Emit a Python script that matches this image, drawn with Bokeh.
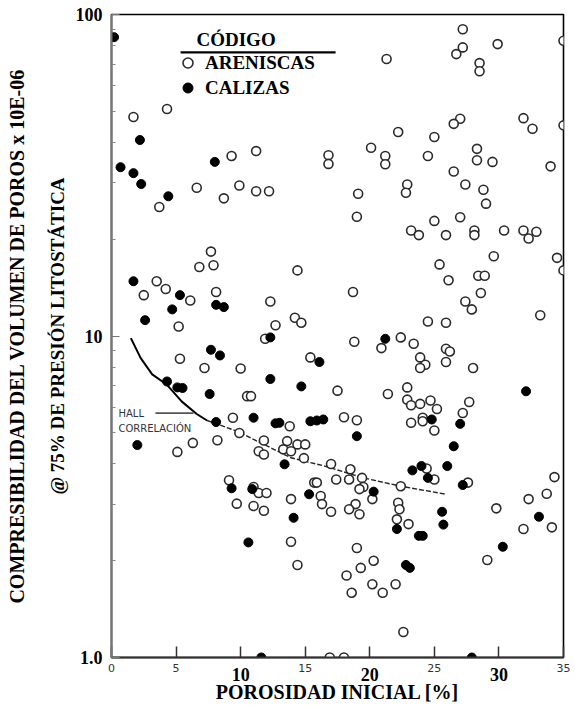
from bokeh.plotting import figure
from bokeh.models import (FixedTicker, LogAxis, LinearAxis, Label, Legend, LegendItem,
                          BoxAnnotation, ColumnDataSource, Range1d)
from bokeh.embed import file_html
from bokeh.resources import INLINE

# ---------------- data ----------------
ARENISCAS_X = [1.7, 4.3, 3.7, 6.6, 8.7, 9.3, 9.9, 11.2, 11.2, 12.2, 16.8, 16.8,
               27.2, 27.2, 26.7, 29.9, 35.0, 21.3, 28.5, 28.5, 27.0, 26.5, 31.9, 32.6,
               35.0, 22.2, 25.0, 20.1, 21.2, 21.2, 24.5, 28.3, 28.3, 29.5, 26.5, 34.0,
               22.9, 22.8, 27.4, 28.8, 29.0, 19.1, 19.0, 23.2, 23.8, 25.0, 25.9, 27.0,
               28.1, 28.1, 30.4, 31.9, 32.9, 32.3, 29.6, 34.5, 35.0, 25.4, 26.1, 28.4,
               28.9, 28.6, 18.7, 27.4, 27.9, 33.2, 24.5, 25.9, 18.8, 20.9, 22.4, 23.4,
               25.9, 26.2, 23.9, 24.3, 23.9, 25.9, 28.0, 17.5, 22.9, 21.4, 22.9, 24.7,
               23.2, 23.9, 25.2, 27.7, 27.2, 18.0, 19.0, 23.2, 24.1, 24.1, 25.0, 17.0,
               18.5, 24.4, 17.4, 18.4, 19.4, 19.5, 19.2, 20.2, 22.4, 18.9, 18.4, 19.2,
               17.0, 22.2, 22.3, 22.1, 23.0, 25.0, 27.6, 29.8, 32.3, 33.7, 34.3, 31.9,
               34.1, 29.1, 19.0, 20.3, 19.3, 18.2, 20.2, 18.6, 21.0, 22.0, 22.6, 16.9,
               18.0, 9.1, 9.7, 11.0, 11.4, 12.0, 11.0, 11.8, 13.9, 15.7, 15.9, 16.2,
               16.3, 13.9, 14.4, 7.7, 6.8, 7.9, 14.4, 3.5, 4.2, 2.5, 8.1, 6.1,
               12.3, 5.2, 12.7, 14.2, 14.7, 11.9, 5.3, 7.2, 10.0, 15.4, 10.5, 10.8,
               9.4, 13.8, 9.9, 11.8, 13.6, 14.4, 15.0, 13.3, 13.9, 11.4, 11.8, 14.9,
               5.1, 6.3, 8.2]
ARENISCAS_Y = [48.0, 50.8, 25.2, 28.9, 26.8, 36.3, 29.4, 37.6, 28.2, 28.2, 36.5, 34.3,
               90.0, 79.0, 75.3, 80.9, 82.9, 72.7, 70.6, 66.6, 47.4, 45.7, 47.6, 44.1,
               45.2, 43.1, 41.6, 38.5, 36.3, 34.2, 36.3, 38.2, 35.2, 34.8, 32.5, 33.7,
               29.6, 27.9, 29.6, 28.5, 25.8, 27.7, 23.5, 21.3, 20.6, 22.8, 20.6, 23.4,
               21.3, 20.6, 21.3, 21.3, 21.1, 20.1, 17.7, 17.5, 16.0, 16.7, 14.9, 15.4,
               15.4, 13.6, 13.7, 12.8, 12.1, 11.6, 11.1, 11.0, 9.6, 9.17, 9.9, 9.46,
               9.13, 8.95, 8.58, 8.14, 7.95, 8.3, 7.95, 6.76, 6.92, 6.6, 6.34, 6.3,
               6.09, 6.15, 5.93, 6.23, 5.76, 5.59, 5.47, 5.37, 5.57, 5.43, 5.08, 4.0,
               3.85, 3.87, 3.58, 3.58, 3.62, 3.39, 3.34, 3.11, 3.41, 3.0, 2.89, 2.79,
               2.84, 3.03, 2.89, 2.69, 2.6, 3.58, 3.5, 2.91, 3.11, 3.23, 3.64, 2.51,
               2.54, 2.01, 2.19, 2.0, 1.9, 1.8, 1.69, 1.59, 1.59, 1.69, 1.2, 1.0,
               1.0, 3.56, 3.01, 3.39, 3.25, 3.25, 2.96, 2.86, 3.11, 3.5, 3.5, 3.18,
               3.0, 2.29, 1.94, 18.3, 16.4, 16.6, 16.0, 14.8, 14.0, 13.4, 13.7, 12.9,
               12.8, 10.7, 10.8, 11.4, 11.0, 9.8, 8.5, 7.95, 7.92, 8.58, 6.5, 6.5,
               5.57, 5.24, 4.99, 4.73, 4.71, 4.6, 4.6, 4.44, 4.38, 4.38, 4.28, 4.17,
               4.36, 4.65, 4.74]

CALIZAS_X = [0.2, 2.2, 0.7, 1.7, 2.3, 4.4, 8.0, 21.2, 32.1, 27.0, 24.8, 19.0,
             26.5, 23.3, 24.0, 26.0, 24.5, 27.2, 25.6, 25.7, 33.1, 30.3, 22.8, 23.1,
             20.3, 22.1, 23.8, 24.1, 27.9, 13.4, 9.3, 10.9, 15.3, 14.1, 10.6, 11.6,
             1.7, 5.3, 4.7, 8.1, 8.7, 2.6, 12.3, 7.7, 8.4, 16.1, 12.3, 14.7,
             4.3, 5.1, 5.5, 7.6, 8.1, 11.0, 12.7, 13.0, 15.4, 15.9, 16.4, 2.0]
CALIZAS_Y = [85.0, 40.7, 33.5, 32.1, 29.7, 27.2, 34.8, 9.8, 6.73, 5.33, 5.5, 4.88,
             4.54, 3.82, 3.94, 3.94, 3.62, 3.44, 2.84, 2.59, 2.74, 2.21, 1.94, 1.9,
             3.28, 2.51, 2.39, 2.39, 1.0, 3.99, 3.36, 3.34, 3.22, 2.72, 2.28, 1.0,
             14.8, 13.4, 12.1, 12.5, 12.3, 11.2, 9.9, 9.06, 8.7, 8.3, 7.35, 6.97,
             7.22, 6.92, 6.89, 6.6, 5.4, 5.57, 5.35, 5.37, 5.43, 5.46, 5.5, 4.58]

# Hall correlation curve (solid part, then dashed part)
HALL_X_SOLID = [1.5, 2.25, 3.15, 4.3, 5.45, 6.6, 7.4]
HALL_Y_SOLID = [9.85, 8.55, 7.6, 7.05, 6.25, 5.72, 5.46]
HALL_X_DASH = [7.4, 9.7, 11.8, 13.9, 16.5, 19.5, 22.4, 25.9]
HALL_Y_DASH = [5.46, 5.06, 4.6, 4.18, 3.94, 3.62, 3.41, 3.22]

X_TICKS = [0, 5, 10, 15, 20, 25, 30, 35]
X_TICKS_BOLD = [10, 20, 30]
X_TICKS_SMALL = [0, 5, 15, 25, 35]
Y_TICKS = [1, 10, 100]
Y_TICK_LABELS = {1: "1.0", 10: "10", 100: "100"}
Y_MINOR = [2, 3, 4, 5, 6, 7, 8, 9, 20, 30, 40, 50, 60, 70, 80, 90]

SERIF = "Liberation Serif"

# ---------------- figure ----------------
p = figure(width=571, height=710, x_range=Range1d(0, 35), y_range=Range1d(1, 100),
           y_axis_type="log", output_backend="svg", toolbar_location=None,
           min_border_left=111, min_border_right=8, min_border_top=14,
           min_border_bottom=53)
p.xgrid.visible = False
p.ygrid.visible = False
p.outline_line_color = "black"
p.outline_line_width = 1.6
p.background_fill_color = "white"
p.border_fill_color = "white"

# y axis (inner, with ticks and second line of the title)
yax = p.yaxis[0]
yax.ticker = FixedTicker(ticks=Y_TICKS, minor_ticks=Y_MINOR)
yax.major_label_overrides = Y_TICK_LABELS
yax.major_label_text_font = SERIF
yax.major_label_text_font_style = "bold"
yax.major_label_text_font_size = "18px"
yax.major_label_text_color = "black"
yax.major_label_standoff = 9
yax.major_tick_in = 8
yax.major_tick_out = 0
yax.minor_tick_in = 4
yax.minor_tick_out = 0
yax.axis_line_color = "#777777"
yax.axis_line_width = 2
yax.major_tick_line_color = "#777777"
yax.minor_tick_line_color = "#888888"
yax.axis_label = "@ 75% DE PRESIÓN LITOSTÁTICA"
yax.axis_label_text_font = SERIF
yax.axis_label_text_font_style = "bold"
yax.axis_label_text_font_size = "19px"
yax.axis_label_text_color = "black"
yax.axis_label_standoff = 5

# outer y axis carrying the first line of the title
ax2 = LogAxis(ticker=FixedTicker(ticks=[]),
              axis_label="COMPRESIBILIDAD DEL VOLUMEN DE POROS x 10E-06",
              axis_line_color=None, major_tick_line_color=None,
              minor_tick_line_color=None, major_label_standoff=0,
              axis_label_standoff=16,
              axis_label_text_font=SERIF, axis_label_text_font_style="bold",
              axis_label_text_font_size="20px", axis_label_text_color="black")
p.add_layout(ax2, "left")

# x axis (inner): line, ticks and the small tick labels
xax = p.xaxis[0]
xax.ticker = FixedTicker(ticks=X_TICKS)
xax.major_label_overrides = {t: (str(t) if t in X_TICKS_SMALL else "") for t in X_TICKS}
xax.major_label_text_font = "DejaVu Sans"
xax.major_label_text_font_size = "11px"
xax.major_label_text_color = "#333333"
xax.major_label_standoff = 6
xax.major_tick_in = 11
xax.major_tick_out = 0
xax.minor_tick_line_color = None
xax.axis_line_color = "#333333"
xax.axis_line_width = 2
xax.major_tick_line_color = "#333333"
xax.major_tick_line_width = 1.5

# x axis (outer): bold tick labels pulled up into the same row, and the title
xax2 = LinearAxis(ticker=FixedTicker(ticks=X_TICKS_BOLD),
                  axis_line_color=None, major_tick_line_color=None,
                  minor_tick_line_color=None, major_tick_in=0, major_tick_out=0,
                  major_label_standoff=-7,
                  major_label_text_font=SERIF, major_label_text_font_style="bold",
                  major_label_text_font_size="18px", major_label_text_color="black",
                  axis_label="POROSIDAD INICIAL [%]", axis_label_standoff=-3,
                  axis_label_text_font=SERIF, axis_label_text_font_style="bold",
                  axis_label_text_font_size="20px", axis_label_text_color="black")
p.add_layout(xax2, "below")

# ---------------- Hall correlation ----------------
p.line(HALL_X_SOLID, HALL_Y_SOLID, line_color="black", line_width=2)
p.line(HALL_X_DASH, HALL_Y_DASH, line_color="#222222", line_width=1.4, line_dash="5 2")

p.add_layout(Label(x=7, y=244, x_units="screen", y_units="screen", text="HALL",
                   text_baseline="middle", text_font="DejaVu Sans",
                   text_font_size="10px", text_color="#333333"))
p.add_layout(Label(x=7, y=229, x_units="screen", y_units="screen", text="CORRELACIÓN",
                   text_baseline="middle", text_font="DejaVu Sans",
                   text_font_size="10px", text_color="#333333"))
p.add_layout(BoxAnnotation(left=3.4, right=6.35, bottom=5.72, top=5.79,
                           fill_color="#555555", fill_alpha=1, line_color=None))

# ---------------- points ----------------
src_a = ColumnDataSource(dict(x=ARENISCAS_X, y=ARENISCAS_Y))
src_c = ColumnDataSource(dict(x=CALIZAS_X, y=CALIZAS_Y))
r_a = p.scatter("x", "y", source=src_a, marker="circle", size=9,
                fill_color="white", line_color="#2a2a2a", line_width=1.6)
r_c = p.scatter("x", "y", source=src_c, marker="circle", size=9,
                fill_color="black", line_color="black", line_width=1)

# ---------------- legend ----------------
p.add_layout(Label(x=85, y=618, x_units="screen", y_units="screen", text="CÓDIGO",
                   text_baseline="alphabetic", text_font=SERIF,
                   text_font_style="bold", text_font_size="19px",
                   text_color="black"))
p.add_layout(BoxAnnotation(left=5.35, right=17.35, bottom=75.6, top=76.9,
                           fill_color="black", fill_alpha=1, line_color=None))
legend = Legend(items=[LegendItem(label="ARENISCAS", renderers=[r_a]),
                       LegendItem(label="CALIZAS", renderers=[r_c])],
                location=(64, 557), orientation="vertical",
                glyph_width=25, glyph_height=25, label_height=25,
                spacing=0, padding=0, margin=0, label_standoff=5,
                border_line_color=None, background_fill_alpha=0,
                label_text_font=SERIF, label_text_font_style="bold",
                label_text_font_size="19px", label_text_color="black")
p.add_layout(legend)

open("out.html", "w").write(file_html(p, INLINE))
